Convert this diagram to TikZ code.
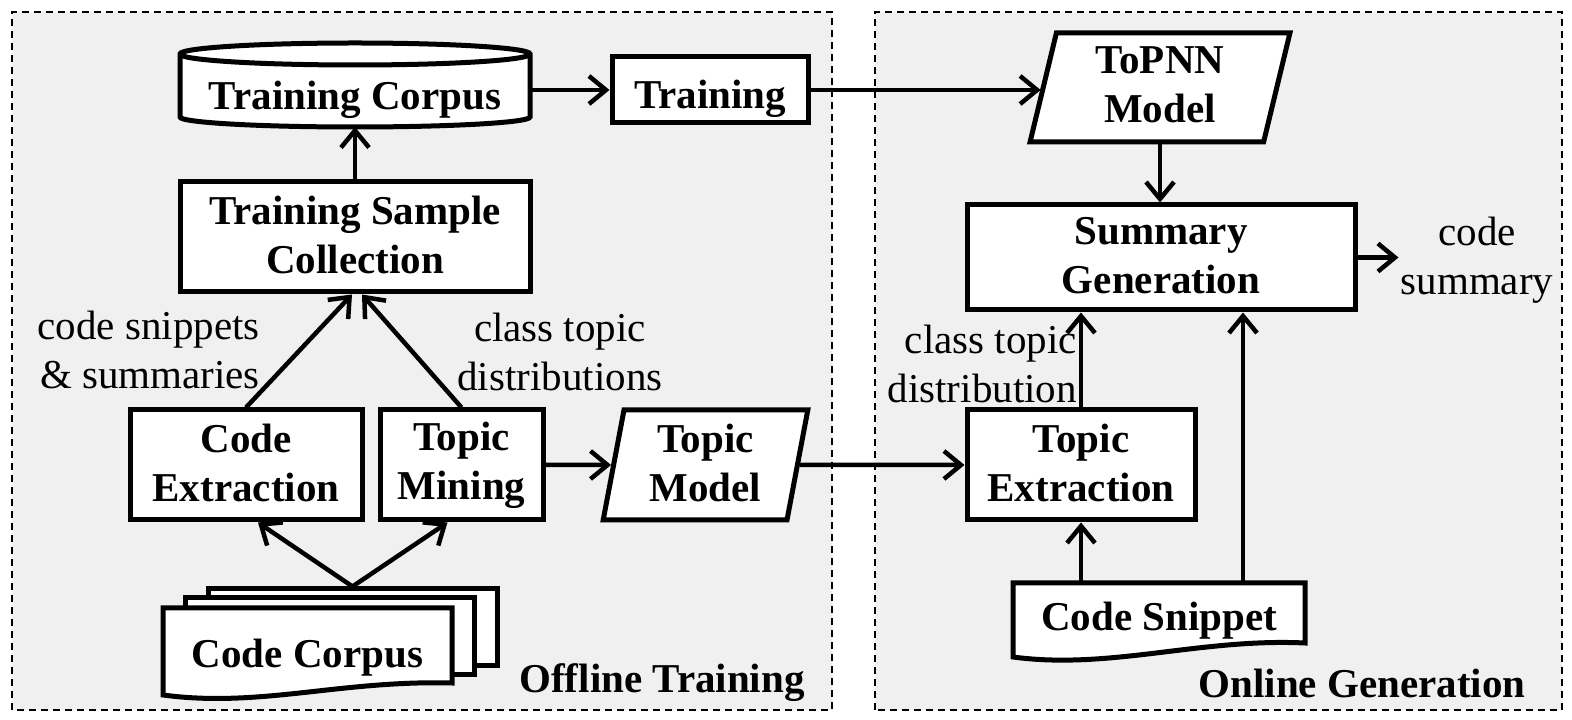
\documentclass[tikz,border=0pt]{standalone}
\usepackage{fontspec}
\setmainfont{Liberation Serif}
\usetikzlibrary{arrows.meta,shapes.geometric,calc}
\definecolor{panelgray}{RGB}{240,240,240}
\newcommand{\boxstrut}{\rule[-5pt]{0pt}{51pt}}

\begin{document}
\begin{tikzpicture}[x=1pt,y=1pt,>={Straight Barb[length=17pt,width=28pt]},
  font=\fontsize{41}{49}\selectfont,
  panel/.style={draw,dash pattern=on 7pt off 5pt,line width=1.6pt,fill=panelgray},
  blk/.style={draw,line width=5pt,fill=white,font=\fontsize{41}{49}\selectfont\bfseries,align=center,inner sep=0pt,
    execute at begin node=\boxstrut,execute at end node=\boxstrut},
  para/.style={blk,trapezium,trapezium stretches=true},
  doc/.style={draw,line width=5pt,fill=white},
  lbl/.style={align=center,inner sep=2pt},
  flow/.style={->,line width=4.5pt}]
  \useasboundingbox (0,0) rectangle (1572,720);
  % --- the two stages ---
  \path[panel] (12,10) rectangle (832,708);
  \path[panel] (875,10) rectangle (1562,708);
  \node[font=\fontsize{41}{49}\selectfont\bfseries] (offl) at (662,37) {Offline Training};
  \node[font=\fontsize{41}{49}\selectfont\bfseries] (onl)  at (1362,37) {Online Generation};
  % --- training corpus (cylinder) ---
  \filldraw[doc] (180,666) -- (180,603) arc[start angle=180,end angle=360,x radius=175,y radius=10]
    -- (530,666) arc[start angle=0,end angle=180,x radius=175,y radius=11] -- cycle;
  \draw[line width=5pt] (180,666) arc[start angle=180,end angle=360,x radius=175,y radius=11];
  \node[inner sep=0pt,outer sep=0pt,minimum width=350,minimum height=54,font=\fontsize{41}{49}\selectfont\bfseries]
    (tcorp) at (355,620) {Training Corpus};
  % --- offline stage ---
  \node[blk,minimum width=196,minimum height=66] (train) at (710,630) {Training};
  \node[blk,minimum width=350,minimum height=110] (tsc) at (355,483) {Training Sample\\Collection};
  \node[blk,minimum width=232,minimum height=110] (codeext) at (246,255) {Code\\Extraction};
  \node[blk,minimum width=163,minimum height=110] (topicmin) at (461.5,255) {Topic\\Mining};
  \node[para,trapezium left angle=80.2,trapezium right angle=99.8,minimum width=205,minimum height=110]
    (topicmod) at (705.5,255) {Topic\\Model};
  % code corpus: stack of documents
  \node[doc,minimum width=289,minimum height=77] (ccback) at (352.5,92.5) {};
  \node[doc,minimum width=289,minimum height=77] (ccmid) at (329.5,83.5) {};
  \filldraw[doc] (163,112) -- (452,112) -- (452,37) .. controls (340,40) and (260,12) .. (163,25) -- cycle;
  \node[inner sep=0pt,outer sep=0pt,minimum width=289,font=\fontsize{41}{49}\selectfont\bfseries]
    (ccorp) at (307.5,62) {Code Corpus};
  % --- online stage ---
  \node[para,trapezium left angle=78.6,trapezium right angle=101.4,minimum width=260,minimum height=109]
    (topnn) at (1160,632.5) {ToPNN\\Model};
  \node[blk,minimum width=388,minimum height=105] (sumgen) at (1161,462.5) {Summary\\Generation};
  \node[blk,minimum width=228,minimum height=110] (topicext) at (1081,255) {Topic\\Extraction};
  \filldraw[doc] (1013,137) -- (1305,137) -- (1305,77) .. controls (1200,82) and (1110,50) .. (1013,63) -- cycle;
  \node[inner sep=0pt,outer sep=0pt,minimum width=292,minimum height=80,font=\fontsize{41}{49}\selectfont\bfseries]
    (csnip) at (1159,99) {Code Snippet};
  \coordinate (snipR) at ($(csnip.north)+(84,0)$);
  % --- labels ---
  \node[lbl,align=right,anchor=east] (snipl) at (262,370) {code snippets\\\& summaries};
  \node[lbl] (distl) at (560,368) {class topic\\distributions};
  \node[lbl,align=right,anchor=east] (distr) at (1079,356) {class topic\\distribution};
  \node[lbl] (csum) at (1477,460) {code\\summary};
  % --- connectors ---
  \draw[flow] (tcorp.east |- train.west) -- (train.west);
  \draw[flow] (train.east) -- (train.east -| topnn.west);
  \draw[flow] (tsc.north) -- (tsc.north |- tcorp.south);
  \draw[flow] (codeext.north) -- ([xshift=-3]tsc.south);
  \draw[flow] (topicmin.north) -- ([xshift=7]tsc.south);
  \draw[flow] (ccback.north) -- ([xshift=12]codeext.south);
  \draw[flow] (ccback.north) -- ([xshift=-14]topicmin.south);
  \draw[flow] (topicmin.east) -- (topicmod.west);
  \draw[flow] (topicmod.east) -- (topicext.west);
  \draw[flow] (topnn.south) -- (topnn.south |- sumgen.north);
  \draw[flow] (sumgen.east) -- (sumgen.east -| csum.west);
  \draw[flow] (topicext.north) -- (topicext.north |- sumgen.south);
  \draw[flow] (topicext.south |- csnip.north) -- (topicext.south);
  \draw[flow] (snipR) -- (snipR |- sumgen.south);
\end{tikzpicture}
\end{document}
